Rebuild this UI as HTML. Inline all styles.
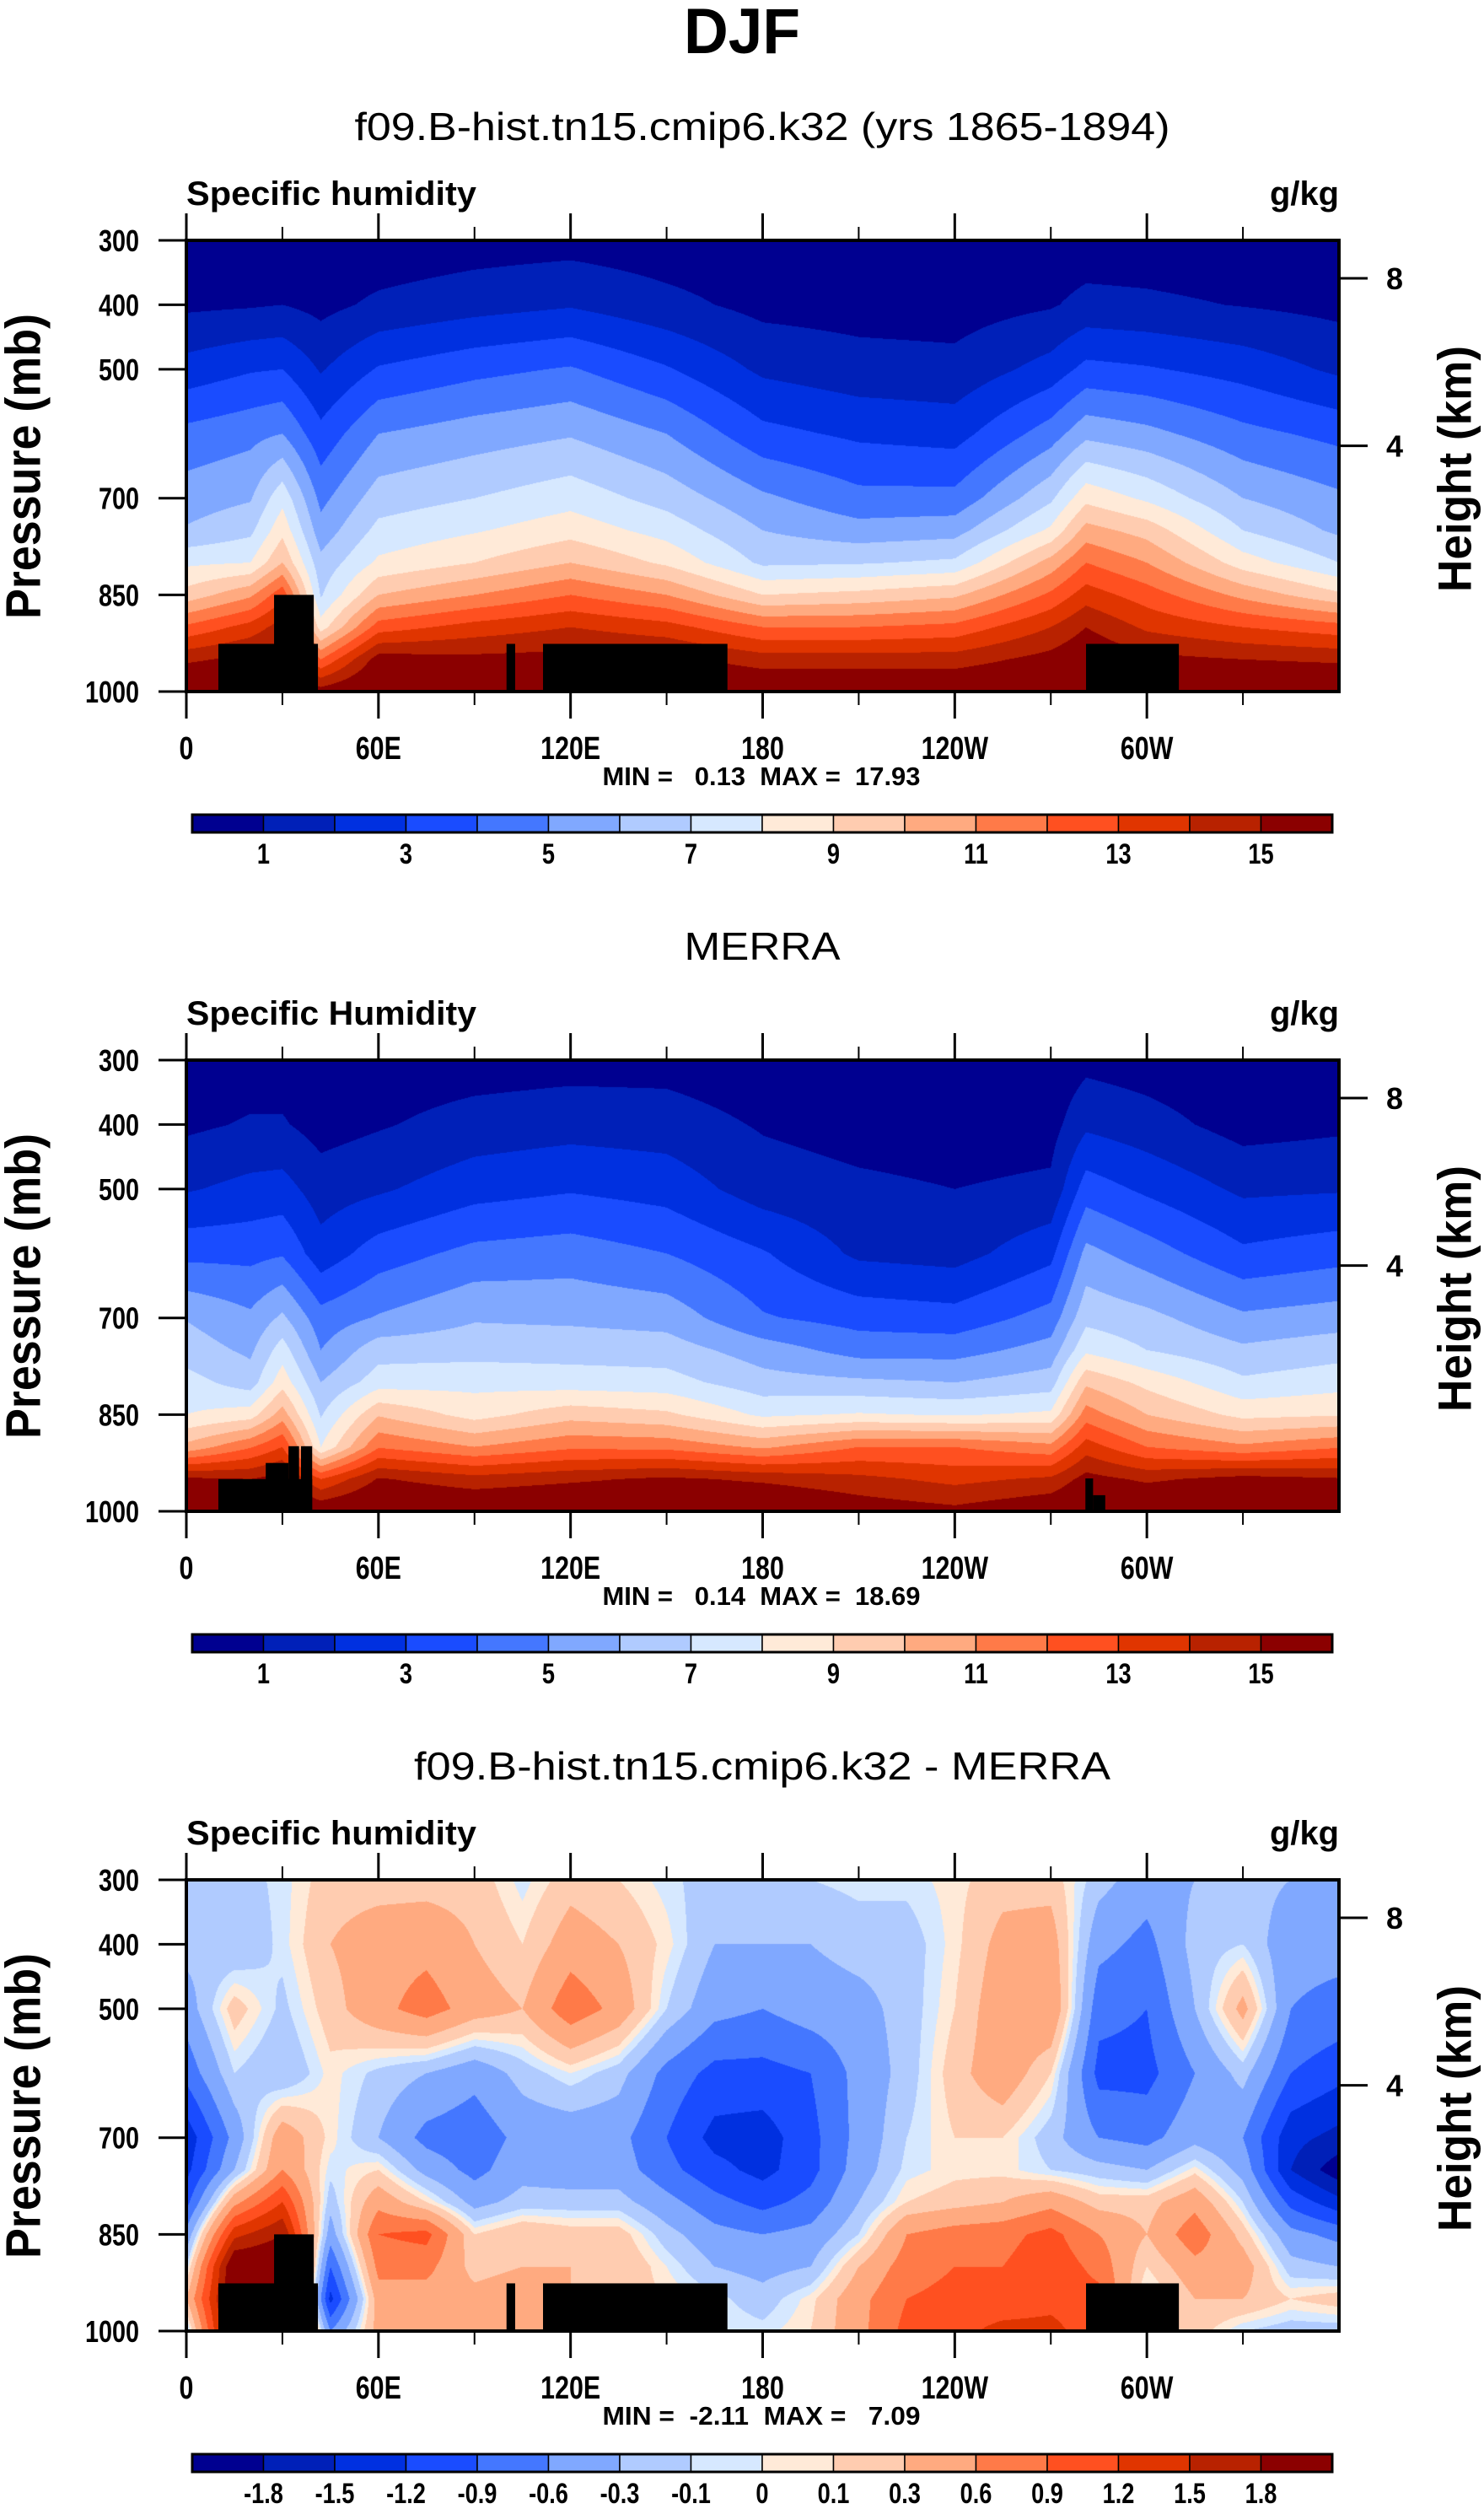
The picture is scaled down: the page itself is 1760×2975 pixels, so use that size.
<!DOCTYPE html>
<html><head><meta charset="utf-8"><style>
html,body{margin:0;padding:0;background:#fff;}
#wrap{position:relative;width:1760px;height:2975px;overflow:hidden;background:#fff;}
canvas{position:absolute;}
svg{position:absolute;left:0;top:0;}
text{font-family:"Liberation Sans",sans-serif;fill:#000;}
</style></head><body>
<div id="wrap">
<canvas id="c0" width="1367" height="535" style="left:221px;top:285px"></canvas>
<canvas id="c1" width="1367" height="535" style="left:221px;top:1257px"></canvas>
<canvas id="c2" width="1367" height="535" style="left:221px;top:2229px"></canvas>
<svg id="ov" width="1760" height="2975"></svg>
</div>
<script>
// ---- data ----
const presLevels = [300,400,500,600,700,750,800,850,900,950,1000];
const lonsQ = [0,20,30,42,60,90,120,150,180,210,240,270,281,300,330,360];
const modelQ = [
 [0.3,0.8,2.4,4.3,5.5,6.1,7.8,9.4,12.2,14.8,16.5],
 [0.3,0.9,2.9,4.7,5.9,6.75,8.0,10.8,13.4,15.3,16.5],
 [0.3,1.0,3.0,5.0,7.7,8.7,10.0,12.7,14.5,15.6,16.5],
 [0.3,0.7,1.9,3.3,4.7,5.4,6.3,6.9,8.5,12.0,15.5],
 [0.3,1.2,3.1,5.0,6.5,7.3,8.2,10.0,12.5,15.5,16.5],
 [0.5,1.6,3.7,5.5,7.0,7.9,9.0,11.0,13.4,15.3,16.5],
 [0.6,1.9,4.1,5.9,7.6,8.6,10.0,12.0,14.0,15.4,16.5],
 [0.4,1.3,3.1,5.0,6.6,7.6,8.8,11.0,13.4,15.3,16.5],
 [0.3,0.7,1.8,3.3,5.2,6.0,6.8,9.0,12.0,14.5,16.2],
 [0.2,0.6,1.4,2.8,4.3,5.4,6.9,9.3,12.0,14.5,16.2],
 [0.2,0.55,1.3,2.6,4.3,5.6,7.2,9.8,12.3,14.5,16.2],
 [0.3,0.9,2.4,4.5,6.8,8.2,10.4,12.2,14.0,15.4,16.5],
 [0.4,1.3,3.3,5.7,8.7,10.4,12.0,13.5,15.0,16.0,16.5],
 [0.4,1.2,3.1,5.3,7.8,9.6,11.0,12.5,13.8,15.3,16.5],
 [0.3,0.95,2.6,4.3,6.0,7.0,8.5,10.7,13.0,15.0,16.5],
 [0.3,0.7,1.8,3.7,5.2,5.8,7.0,9.2,12.4,14.8,16.5]
];
const merraQ = [
 [0.3,0.8,1.9,3.7,5.95,6.5,7.4,8.0,10.3,15.2,16.5],
 [0.5,1.1,2.3,3.7,5.2,5.8,6.5,8.5,11.9,15.0,16.5],
 [0.5,1.1,2.4,3.9,6.2,7.5,8.6,10.5,13.0,15.5,16.5],
 [0.3,0.6,1.5,2.4,4.4,5.0,6.0,6.9,8.0,13.0,16.0],
 [0.4,0.9,1.85,3.5,5.1,6.6,7.5,9.9,11.9,15.1,16.5],
 [0.5,1.4,2.6,4.3,5.9,6.6,7.7,8.6,11.0,14.4,16.3],
 [0.6,1.6,2.9,4.5,5.8,6.6,7.5,9.6,11.8,14.8,16.5],
 [0.6,1.5,2.6,4.0,5.6,6.5,7.4,9.2,11.7,15.2,16.5],
 [0.3,0.9,1.5,3.1,4.1,5.5,6.4,7.8,10.8,14.8,16.5],
 [0.2,0.6,1.2,1.8,3.6,4.6,6.2,8.1,12.0,14.3,15.7],
 [0.15,0.5,1.0,1.6,3.4,4.6,6.0,7.9,12.0,13.7,15.3],
 [0.2,0.6,1.2,2.7,4.4,5.4,6.5,8.2,11.3,14.2,16.0],
 [0.7,1.8,3.5,5.3,6.7,7.8,9.8,11.5,13.5,15.4,16.5],
 [0.5,1.4,2.8,4.5,6.3,7.0,8.7,10.0,12.0,14.8,16.5],
 [0.2,0.6,1.8,3.2,5.2,6.2,7.2,8.7,11.2,15.4,16.5],
 [0.3,0.8,1.9,3.6,5.5,6.6,7.6,8.9,11.9,15.1,16.5]
];
const lonsD = [0,15,30,45,60,75,90,105,120,135,150,165,180,195,210,225,240,255,270,285,300,315,330,345,360];
const diffQ = [
 [-0.2,-0.2,-0.45,-0.8,-1.4,-1.3,-1.0,-0.5,-0.1,0.3,-0.2],
 [-0.2,-0.3,0.2,-0.1,-0.5,-0.3,0.5,1.4,2.2,2.2,2.2],
 [-0.05,-0.05,-0.15,-0.3,0.5,0.6,1.2,1.8,2.2,2.2,2.2],
 [0.2,0.3,0.2,0.05,0.05,-0.05,-0.2,-0.45,-0.9,-1.3,-0.6],
 [0.2,0.45,0.5,-0.15,-0.3,0.1,0.5,0.9,0.7,0.45,0.4],
 [0.2,0.5,0.75,-0.3,-0.7,-0.4,0.1,1.0,0.7,0.45,0.45],
 [0.2,0.3,0.45,-0.5,-0.8,-0.7,-0.4,0.1,0.2,0.4,0.4],
 [-0.05,0.1,0.3,-0.2,-0.5,-0.4,-0.2,0.3,0.3,0.5,0.3],
 [0.2,0.45,0.8,0.0,-0.5,-0.45,-0.2,0.2,0.3,0.3,0.3],
 [0.1,0.3,0.5,-0.2,-0.5,-0.45,-0.2,0.2,0.3,0.2,0.2],
 [-0.05,0.05,-0.1,-0.7,-0.9,-0.8,-0.5,-0.2,0.0,0.1,0.1],
 [-0.2,-0.3,-0.5,-1.0,-1.3,-1.1,-0.8,-0.5,-0.3,-0.05,0.0],
 [-0.2,-0.3,-0.6,-1.0,-1.35,-1.3,-1.0,-0.6,-0.4,-0.2,-0.05],
 [-0.1,-0.3,-0.45,-0.9,-1.0,-1.0,-0.8,-0.5,-0.3,0.05,0.1],
 [-0.05,-0.2,-0.4,-0.5,-0.5,-0.45,-0.3,-0.1,0.3,0.5,0.5],
 [-0.05,-0.2,-0.2,-0.2,-0.1,-0.05,0.1,0.6,0.75,0.9,1.0],
 [0.05,0.05,0.1,0.2,0.1,0.05,0.2,0.75,0.9,1.0,1.1],
 [0.2,0.4,0.5,0.5,0.1,0.05,0.3,0.8,0.9,1.0,1.3],
 [0.2,0.45,0.6,0.1,-0.2,-0.1,0.5,1.0,1.1,1.1,1.3],
 [-0.2,-0.5,-0.8,-1.0,-0.6,-0.2,0.2,0.6,0.8,1.0,1.0],
 [-0.45,-0.7,-0.9,-1.0,-0.7,-0.3,0.2,0.3,0.1,-0.1,0.0],
 [-0.3,-0.2,-0.3,-0.6,-0.4,0.05,0.5,0.8,0.5,0.3,0.2],
 [-0.2,-0.1,0.4,-0.2,-0.6,-0.4,-0.1,0.2,0.45,0.3,-0.1],
 [-0.3,-0.5,-0.6,-0.9,-1.4,-1.5,-1.0,-0.5,-0.2,0.1,-0.2],
 [-0.3,-0.5,-0.7,-1.1,-1.6,-2.0,-1.4,-0.7,-0.3,0.2,-0.2]
];
const qLevels = [1,2,3,4,5,6,7,8,9,10,11,12,13,14,15];
const qLabelBounds = [1,3,5,7,9,11,13,15];
const qLabels = ['1','3','5','7','9','11','13','15'];
const dLevels = [-1.8,-1.5,-1.2,-0.9,-0.6,-0.3,-0.1,0,0.1,0.3,0.6,0.9,1.2,1.5,1.8];
const dLabelBounds = [1,2,3,4,5,6,7,8,9,10,11,12,13,14,15];
const dLabels = ['-1.8','-1.5','-1.2','-0.9','-0.6','-0.3','-0.1','0','0.1','0.3','0.6','0.9','1.2','1.5','1.8'];
const palette = ['#000090','#0020b8','#0030e0','#1a4cff','#4477ff','#80a8ff','#b0cbff','#d6e8ff','#ffead8','#ffccb0','#ffaa80','#ff7a48','#ff5020','#e03500','#b82200','#8b0000'];
// topography: [lonStart, lonEnd, pressureTop]
const topoModel = [[10,41.1,926],[27.4,39.8,850],[100,102.7,926],[111.4,169,926],[281,310,926]];
const topoMerra = [[10,39.3,950],[24.8,31.9,925],[31.9,35.2,899],[35.8,39.3,899],[280.8,283.2,949],[283.2,287,975]];
const xTickLons = [0,60,120,180,240,300];
const xTickLabels = ['0','60E','120E','180','120W','60W'];
const xMinorLons = [30,90,150,210,270,330];
const yTickPres = [300,400,500,700,850,1000];
const yTickLabels = ['300','400','500','700','850','1000'];
const hTickKm = ['8','4'];
const hTickPres = [358.9,618.8];

// ---- axes ----
const PX0 = 221, PW = 1367, PH = 535;
function xOf(lon){ return PX0 + lon/360*PW; }
function yOf(p, top){ return top + (p-300)/700*PH; }

function hexRgb(h){ return [parseInt(h.substr(1,2),16),parseInt(h.substr(3,2),16),parseInt(h.substr(5,2),16)]; }
const rgbPal = palette.map(hexRgb);
function locate(arr, v){ let i=0; while(i<arr.length-2 && v>arr[i+1]) i++; const f=(v-arr[i])/(arr[i+1]-arr[i]); return [i, Math.max(0,Math.min(1,f))]; }
function drawField(id, lons, field, levels){
  const cv=document.getElementById(id), ctx=cv.getContext('2d');
  const img=ctx.createImageData(PW,PH), d=img.data;
  const rows=[];
  for(let py=0;py<PH;py++){ rows.push(locate(presLevels, 300+(py+0.5)/PH*700)); }
  for(let px=0;px<PW;px++){
    const [i,fx]=locate(lons,(px+0.5)/PW*360);
    for(let py=0;py<PH;py++){
      const [j,fy]=rows[py];
      const v=(1-fx)*((1-fy)*field[i][j]+fy*field[i][j+1])+fx*((1-fy)*field[i+1][j]+fy*field[i+1][j+1]);
      let k=0; while(k<levels.length && v>=levels[k]) k++;
      const c=rgbPal[k], o=(py*PW+px)*4;
      d[o]=c[0];d[o+1]=c[1];d[o+2]=c[2];d[o+3]=255;
    }
  }
  ctx.putImageData(img,0,0);
}
drawField('c0', lonsQ, modelQ, qLevels);
drawField('c1', lonsQ, merraQ, qLevels);
drawField('c2', lonsD, diffQ, dLevels);

const NS='http://www.w3.org/2000/svg';
const svg=document.getElementById('ov');
function mk(tag, attrs, txt){ const e=document.createElementNS(NS,tag); for(const k in attrs) e.setAttribute(k,attrs[k]); if(txt!==undefined) e.textContent=txt; svg.appendChild(e); return e; }

let t = mk('text',{x:880,y:63,'text-anchor':'middle','font-size':76,'font-weight':'bold',textLength:138,lengthAdjust:'spacingAndGlyphs'},'DJF');



const panels = [
 {top:285, title:'f09.B-hist.tn15.cmip6.k32 (yrs 1865-1894)', titleW:967, left:'Specific humidity', topo:topoModel, stats:'MIN =   0.13  MAX =  17.93', cbLabels:qLabels, cbBounds:qLabelBounds, key:'model'},
 {top:1257, title:'MERRA', titleW:185, left:'Specific Humidity', topo:topoMerra, stats:'MIN =   0.14  MAX =  18.69', cbLabels:qLabels, cbBounds:qLabelBounds, key:'merra'},
 {top:2229, title:'f09.B-hist.tn15.cmip6.k32 - MERRA', titleW:826, left:'Specific humidity', topo:topoModel, stats:'MIN =  -2.11  MAX =   7.09', cbLabels:dLabels, cbBounds:dLabelBounds, key:'diff'}
];

panels.forEach(P=>{
  const top=P.top, bot=top+PH;
  let e;
  e=mk('text',{x:904,y:top-119,'text-anchor':'middle','font-size':46,textLength:P.titleW,lengthAdjust:'spacingAndGlyphs'},P.title);
  
  
  e=mk('text',{x:221,y:top-42,'font-size':40,'font-weight':'bold',textLength:344,lengthAdjust:'spacingAndGlyphs'},P.left);
  
  
  e=mk('text',{x:1588,y:top-42,'text-anchor':'end','font-size':40,'font-weight':'bold',textLength:82,lengthAdjust:'spacingAndGlyphs'},'g/kg');
  
  
  P.topo.forEach(b=>{
    const r=mk('rect',{x:xOf(b[0]),y:yOf(b[2],top),width:xOf(b[1])-xOf(b[0]),height:bot-yOf(b[2],top),fill:'#000'});
    
    
  });
  e=mk('rect',{x:PX0,y:top,width:PW,height:PH,fill:'none',stroke:'#000','stroke-width':4});
  
  
  xTickLons.forEach((lon,i)=>{
    const x=xOf(lon);
    let l=mk('line',{x1:x,x2:x,y1:top-32,y2:top,stroke:'#000','stroke-width':3});
    
    
    l=mk('line',{x1:x,x2:x,y1:bot,y2:bot+32,stroke:'#000','stroke-width':3});
    
    
    const tx=mk('text',{x:x,y:top+615,'text-anchor':'middle','font-size':38,'font-weight':'bold',transform:`translate(${x},0) scale(0.8,1) translate(${-x},0)`},xTickLabels[i]);
    
    
  });
  xMinorLons.forEach(lon=>{
    const x=xOf(lon);
    let l=mk('line',{x1:x,x2:x,y1:top-16,y2:top,stroke:'#000','stroke-width':2});
    
    
    l=mk('line',{x1:x,x2:x,y1:bot,y2:bot+16,stroke:'#000','stroke-width':2});
    
    
  });
  yTickPres.forEach((p,i)=>{
    const y=yOf(p,top);
    let l=mk('line',{x1:188,x2:PX0,y1:y,y2:y,stroke:'#000','stroke-width':3});
    
    
    const tx=mk('text',{x:165,y:y+13,'text-anchor':'end','font-size':36,'font-weight':'bold',transform:`translate(165,0) scale(0.8,1) translate(-165,0)`},yTickLabels[i]);
    
    
  });
  hTickPres.forEach((p,i)=>{
    const y=yOf(p,top);
    let l=mk('line',{x1:1588,x2:1622,y1:y,y2:y,stroke:'#000','stroke-width':3});
    
    
    const tx=mk('text',{x:1644,y:y+13,'font-size':36,'font-weight':'bold'},hTickKm[i]);
    
    
  });
  let cy=top+268;
  e=mk('text',{x:28,y:cy,'text-anchor':'middle','dominant-baseline':'central','font-size':58,'font-weight':'bold',textLength:362,lengthAdjust:'spacingAndGlyphs',transform:`rotate(-90 28 ${cy})`},'Pressure (mb)');
  
  
  cy=top+271;
  e=mk('text',{x:1725,y:cy,'text-anchor':'middle','dominant-baseline':'central','font-size':56,'font-weight':'bold',textLength:292,lengthAdjust:'spacingAndGlyphs',transform:`rotate(-90 1725 ${cy})`},'Height (km)');
  
  
  e=mk('text',{x:903,y:top+646,'text-anchor':'middle','font-size':31,'font-weight':'bold',textLength:377,lengthAdjust:'spacingAndGlyphs',style:'white-space:pre'},P.stats);
  
  
  const cbX=228, cbW=1352/16, cbY=top+681, cbH=21;
  palette.forEach((c,k)=>{
    const r=mk('rect',{x:cbX+k*cbW,y:cbY,width:cbW,height:cbH,fill:c,stroke:'#000','stroke-width':1.5});
    
    
  });
  e=mk('rect',{x:cbX,y:cbY,width:1352,height:cbH,fill:'none',stroke:'#000','stroke-width':3});
  
  
  P.cbBounds.forEach((b,i)=>{
    const x=cbX+b*cbW;
    const tx=mk('text',{x:x,y:top+739,'text-anchor':'middle','font-size':34,'font-weight':'bold',transform:`translate(${x},0) scale(0.8,1) translate(${-x},0)`},P.cbLabels[i]);
    
    
  });
});
</script>
</body></html>
